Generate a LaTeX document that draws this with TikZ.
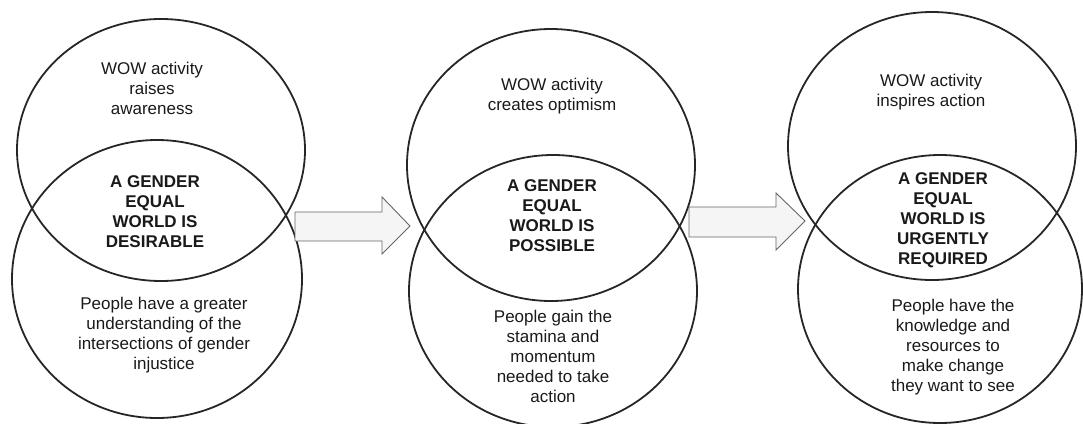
\documentclass[tikz,border=0pt]{standalone}
\usepackage{fontspec}
\setmainfont{Liberation Sans}
\usetikzlibrary{shapes.geometric}
\begin{document}
\begin{tikzpicture}[x=1pt,y=-1pt,
  ring/.style={draw=black!85,line width=1.8pt,ellipse,inner sep=0pt,minimum width=288pt,minimum height=268pt},
  txt/.style={align=center,font=\fontsize{17}{20}\selectfont,text=black!90,inner sep=0pt},
  btxt/.style={txt,font=\fontsize{17}{20}\selectfont\bfseries},
  blockarrow/.style={draw=black!60,line width=0.9pt,fill=gray!8,line join=miter}]
\useasboundingbox (0,0) rectangle (1083,423);
% circles
\node[ring,minimum height=262pt] (c1t) at (161,150) {};
\node[ring,minimum height=278pt,minimum width=290pt] (c1b) at (157,279) {};
\node[ring,minimum height=272pt] (c2t) at (551,165) {};
\node[ring,minimum height=272pt] (c2b) at (553,291) {};
\node[ring] (c3t) at (932,146) {};
\node[ring,minimum width=284pt] (c3b) at (940,289) {};
% texts
\node[txt] (t1) at (152,88) {WOW activity\\raises\\awareness};
\node[btxt] (m1) at (155,212) {A GENDER\\EQUAL\\WORLD IS\\DESIRABLE};
\node[txt] (b1) at (164,335) {People have a greater\\understanding of the\\intersections of gender\\injustice};
\node[txt] (t2) at (552,96) {WOW activity\\creates optimism};
\node[btxt] (m2) at (552,216) {A GENDER\\EQUAL\\WORLD IS\\POSSIBLE};
\node[txt] (b2) at (553,356) {People gain the\\stamina and\\momentum\\needed to take\\action};
\node[txt] (t3) at (931,92) {WOW activity\\inspires action};
\node[btxt] (m3) at (943,220) {A GENDER\\EQUAL\\WORLD IS\\URGENTLY\\REQUIRED};
\node[txt] (b3) at (953,347) {People have the\\knowledge and\\resources to\\make change\\they want to see};
% block arrows
\draw[blockarrow] (295,212) -- (382,212) -- (382,197) -- (410,226) -- (382,254) -- (382,241) -- (295,241) -- cycle;
\draw[blockarrow] (689,207) -- (776,207) -- (776,193) -- (805,221) -- (776,250) -- (776,237) -- (689,237) -- cycle;
\end{tikzpicture}
\end{document}
